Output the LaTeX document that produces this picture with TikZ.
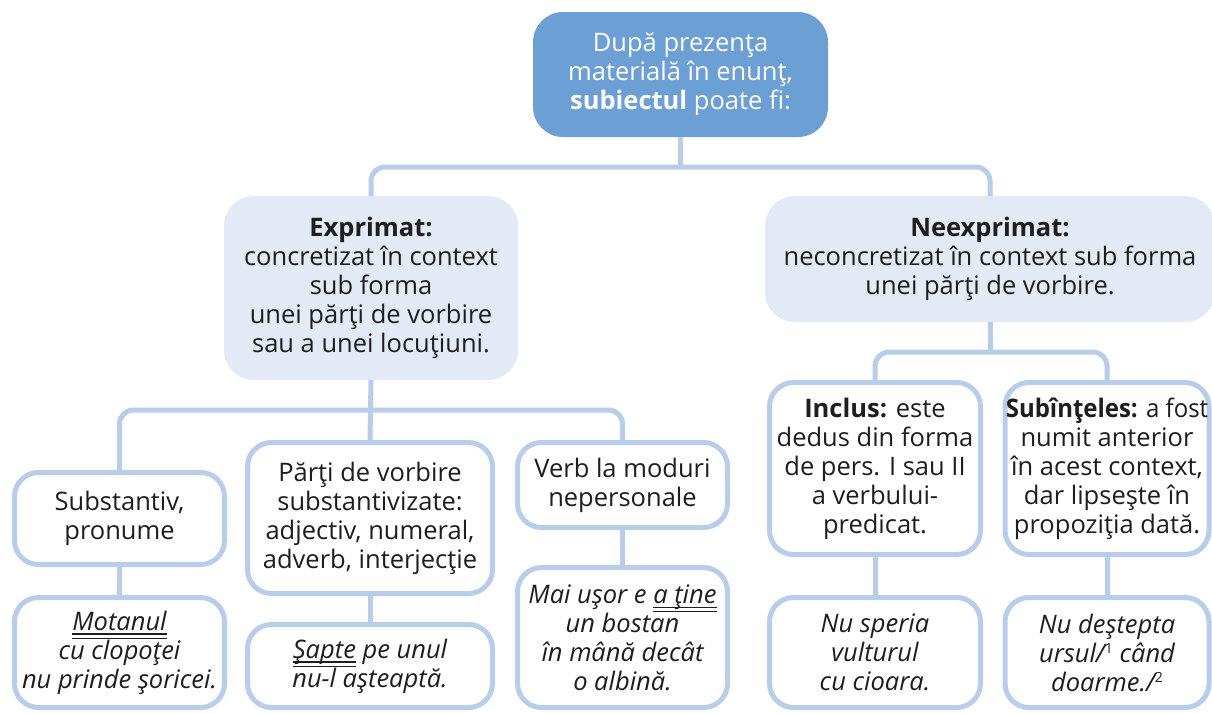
\documentclass[tikz,border=0pt]{standalone}
\usepackage{fontspec}
\usepackage{graphicx}
\setmainfont{Open Sans}
\definecolor{topfill}{HTML}{6C9FD4}
\definecolor{lightfill}{HTML}{E3E9F5}
\definecolor{edge}{HTML}{B8CDE9}
\definecolor{ink}{HTML}{1E1E1E}
\newcommand\dul[1]{\setbox0\hbox{#1}\rlap{\rule[-4.5pt]{\wd0}{1.2pt}}\rlap{\rule[-9pt]{\wd0}{1.2pt}}\box0\relax}
\newcommand\supnum[1]{\raisebox{9pt}{\upshape\fontsize{14}{14}\selectfont #1}}
\begin{document}
\begin{tikzpicture}[x=1pt,y=-1pt,
  txt/.style={font=\fontsize{25.5}{29}\selectfont, text=ink, align=center, inner sep=0pt},
  topbox/.style={txt, fill=topfill, text=white, rounded corners=30pt},
  headbox/.style={txt, fill=lightfill, rounded corners=30pt},
  leafbox/.style={txt, draw=edge, line width=5pt, fill=white, rounded corners=24pt},
  exbox/.style={leafbox, font=\fontsize{25.5}{29}\selectfont\itshape},
  conn/.style={draw=edge, line width=5pt, rounded corners=14pt}]
\useasboundingbox (0,0) rectangle (1212,713);
% nodes
\node[topbox, minimum width=295pt, minimum height=125pt] (top) at (680.5,74.5)
  {După prezenţa\\materială în enunţ,\\\textbf{subiectul} poate fi:};
\node[headbox, minimum width=294pt, minimum height=184pt] (expr) at (371,288)
  {\textbf{Exprimat:}\\concretizat în context\\sub forma\\unei părţi de vorbire\\sau a unei locuţiuni.};
\node[headbox, minimum width=450pt, minimum height=126pt] (neex) at (990,259)
  {\textbf{Neexprimat:}\\neconcretizat în context sub forma\\unei părţi de vorbire.};
\node[leafbox, minimum width=210pt, minimum height=92pt] (subst) at (119.5,518.5)
  {Substantiv,\\pronume};
\node[leafbox, minimum width=245pt, minimum height=151pt] (parti) at (370,518)
  {Părţi de vorbire\\substantivizate:\\adjectiv, numeral,\\adverb, interjecţie};
\node[leafbox, minimum width=210pt, minimum height=85pt] (verb) at (622.5,485)
  {Verb la moduri\\nepersonale};
\node[leafbox, minimum width=211pt, minimum height=172pt] (incl) at (875,468.5)
  {\textbf{Inclus:} este\\dedus din forma\\de pers. I sau II\\a verbului-\\predicat.};
\node[leafbox, minimum width=204pt, minimum height=172pt] (subin) at (1107,468.5)
  {\scalebox{0.94}[1]{\textbf{Subînţeles:} a fost}\\numit anterior\\în acest context,\\dar lipseşte în\\propoziţia dată.};
\node[exbox, minimum width=210pt, minimum height=110pt] (ex1) at (119.5,652.5)
  {\dul{Motanul}\\cu clopoţei\\nu prinde şoricei.};
\node[exbox, minimum width=245pt, minimum height=83pt] (ex2) at (370,666)
  {\dul{Şapte} pe unul\\nu-l aşteaptă.};
\node[exbox, minimum width=210pt, minimum height=140pt] (ex3) at (622.5,637.5)
  {Mai uşor e \dul{a ţine}\\un bostan\\în mână decât\\o albină.};
\node[exbox, minimum width=211pt, minimum height=110pt] (ex4) at (875,652.5)
  {Nu speria\\vulturul\\cu cioara.};
\node[exbox, minimum width=204pt, minimum height=110pt] (ex5) at (1107,652.5)
  {Nu deştepta\\ursul/\supnum{1} când\\doarme./\supnum{2}};
% bus coordinates
\coordinate (b1) at (680.5,167);
\coordinate (b2) at (371,410);
\coordinate (b3) at (990,352);
% connectors
\draw[conn] (top.south) -- (b1);
\draw[conn] (expr.north) |- (b1) -| (neex.north);
\draw[conn] (expr.south) -- (parti.north);
\draw[conn] (subst.north) |- (b2) -| (verb.north);
\draw[conn] (neex.south) -- (b3);
\draw[conn] (incl.north) |- (b3) -| (subin.north);
\draw[conn] (subst.south) -- (ex1.north);
\draw[conn] (parti.south) -- (ex2.north);
\draw[conn] (verb.south) -- (ex3.north);
\draw[conn] (incl.south) -- (ex4.north);
\draw[conn] (subin.south) -- (ex5.north);
\end{tikzpicture}
\end{document}
